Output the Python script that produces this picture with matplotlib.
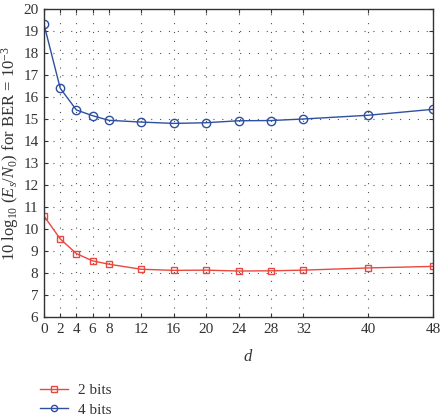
import matplotlib
matplotlib.use("Agg")
import matplotlib.pyplot as plt
from matplotlib.ticker import FixedLocator

plt.rcParams['font.family'] = ['Liberation Serif', 'DejaVu Serif']
plt.rcParams['mathtext.fontset'] = 'custom'
plt.rcParams['mathtext.rm'] = 'Liberation Serif'
plt.rcParams['mathtext.it'] = 'Liberation Serif:italic'

d = [0, 2, 4, 6, 8, 12, 16, 20, 24, 28, 32, 40, 48]
bits2 = [10.59, 9.55, 8.88, 8.55, 8.4, 8.17, 8.12, 8.13, 8.09, 8.1, 8.13, 8.23, 8.3]
bits4 = [19.3, 16.4, 15.41, 15.15, 14.94, 14.86, 14.8, 14.83, 14.92, 14.93, 15.0, 15.17, 15.44]
xticks = [0, 2, 4, 6, 8, 12, 16, 20, 24, 28, 32, 40, 48]
yticks = list(range(6, 21))

W, H = 443, 416
fig = plt.figure(figsize=(W / 100, H / 100), dpi=100)
ax = fig.add_axes([44 / W, (H - 317) / H, (433 - 44) / W, (317 - 9) / H])

red = '#e8483f'
blue = '#2f4f9f'
l2, = ax.plot(d, bits2, color=red, marker='s', markersize=5, markerfacecolor='none',
              markeredgecolor=red, markeredgewidth=1.0, linewidth=1.0, label='2 bits')
l4, = ax.plot(d, bits4, color=blue, marker='o', markersize=6, markerfacecolor='none',
              markeredgecolor=blue, markeredgewidth=1.0, linewidth=1.0, label='4 bits')

ax.set_xlim(0, 48)
ax.set_ylim(6, 20)
ax.xaxis.set_major_locator(FixedLocator(xticks))
ax.yaxis.set_major_locator(FixedLocator(yticks))
ax.grid(True, linestyle=(0, (1, 7)), color='#555555', linewidth=0.8)
ax.tick_params(direction='in', top=True, right=True, labelsize=11, length=3, width=0.8,
               colors='#333333', labelcolor='#333333', pad=4)
for s in ax.spines.values():
    s.set_color('#333333')
    s.set_linewidth(1.0)

ax.set_xlabel('$d$', fontsize=12, color='#333333')
ax.xaxis.set_label_coords((248 - 44) / 389, -0.105)
ax.set_ylabel(r'10 log$_{10}$ ($E_s/N_0$) for BER = $10^{-3}$', fontsize=12, color='#333333')
ax.yaxis.set_label_coords(-0.060, 0.53)

fig.legend(handles=[l2, l4], loc='center left', bbox_to_anchor=(40 / W, 1 - 400 / H),
           frameon=False, fontsize=11, handlelength=1.8, handletextpad=0.7,
           labelspacing=0.4, borderpad=0, borderaxespad=0, markerscale=0.75,
           labelcolor='#333333')

fig.savefig('out.png', dpi=100)
